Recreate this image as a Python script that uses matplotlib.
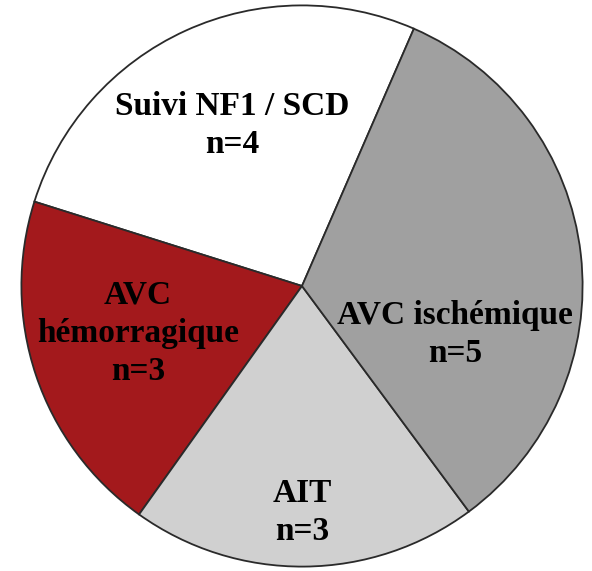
import matplotlib.pyplot as plt

labels = ['Suivi NF1 / SCD', 'AVC\nhémorragique', 'AIT', 'AVC ischémique']
counts = [4, 3, 3, 5]
colors = ['#FFFFFF', '#A3191C', '#D0D0D0', '#A0A0A0']
# where each label block sits, in pie units (radius = 1)
label_pos = [(-0.25, 0.572), (-0.585, -0.168), (0.0, -0.808), (0.545, -0.173)]

fig = plt.figure(figsize=(5.92, 5.71), dpi=100)
ax = fig.add_axes([20 / 592, 3 / 571, 564 / 592, 564 / 571])

ax.pie(counts, colors=colors, startangle=66.5, counterclock=True,
       radius=1.0, wedgeprops=dict(edgecolor='#2a2a2a', linewidth=1.3))

for lab, n, (x, y) in zip(labels, counts, label_pos):
    ax.text(x, y, lab + '\nn=' + str(n), ha='center', va='center',
            fontsize=24, fontweight='bold', family='Liberation Serif',
            linespacing=1.3, color='black')

ax.set_xlim(-1.005, 1.005)
ax.set_ylim(-1.005, 1.005)
ax.set_aspect('equal')
ax.axis('off')

fig.savefig('out.png', dpi=100)
